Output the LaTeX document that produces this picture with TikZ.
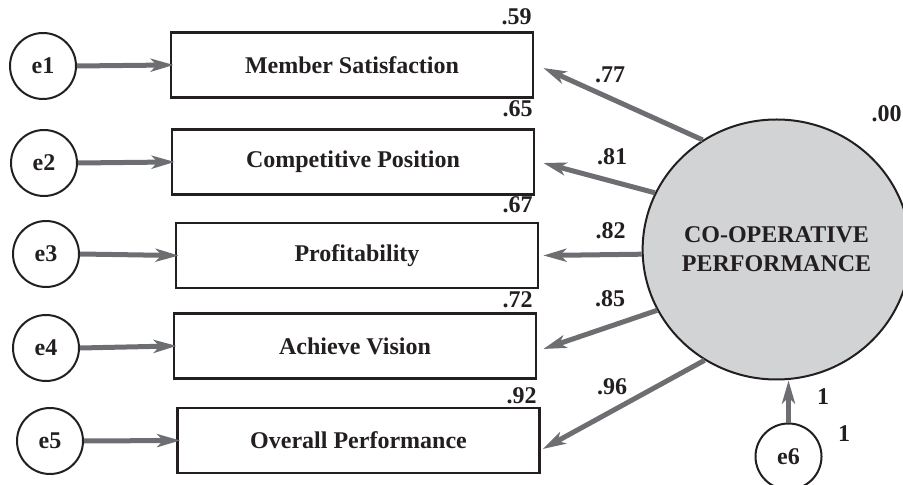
\documentclass[tikz,border=0pt]{standalone}
\usepackage{fontspec}
\setmainfont{Liberation Serif}
\usetikzlibrary{arrows.meta,shapes.geometric,scopes}
\definecolor{ink}{HTML}{231F20}
\definecolor{arrowgray}{HTML}{6D6E71}
\definecolor{latgray}{HTML}{D1D3D4}

\begin{document}
\begin{tikzpicture}[
    x=0.5pt,y=-0.5pt,
    every node/.style={text=ink,font=\bfseries\fontsize{12}{14.5}\selectfont},
    err/.style={circle,draw=ink,line width=1pt,minimum size=33pt,inner sep=0pt},
    obs/.style={rectangle,draw=ink,line width=1.3pt,minimum width=181pt,minimum height=32.5pt,inner sep=0pt},
    lat/.style={ellipse,draw=ink,fill=latgray,line width=1pt,minimum width=125pt,minimum height=130pt,inner sep=0pt,align=center},
    coef/.style={anchor=base east,inner sep=0pt},
    load/.style={anchor=base,inner sep=0pt},
    reg/.style={draw=arrowgray,line width=2.5pt,-{Stealth[length=11.5pt,width=6.5pt,inset=3pt]}},
]
\useasboundingbox (0,0) rectangle (903,485);

\foreach \n/\x/\y in {1/43/66,2/44/163,3/46/254,4/46/348,5/50/441}
    \node[err] (e\n) at (\x,\y) {e\n};
\node[err] (e6) at (788.5,456.5) {e6};

\node[obs] (sat) at (352,65) {Member Satisfaction};
\node[obs] (comp) at (353,162) {Competitive Position};
\node[obs] (prof) at (357,255.5) {Profitability};
\node[obs] (vis) at (355,346) {Achieve Vision};
\node[obs] (over) at (358.5,440.5) {Overall Performance};
\node[lat] (perf) at (776.5,249.5) {CO-OPERATIVE\\PERFORMANCE};

{[reg]
    \foreach \n/\b in {1/sat,2/comp,3/prof,4/vis,5/over}
        \draw[shorten >=-2pt] (e\n.east) -- (\b.west);
    \draw (perf.124) -- ([xshift=4.5pt,yshift=-1.5pt]sat.east);
    \draw (perf.155) -- ([xshift=4pt,yshift=-0.5pt]comp.east);
    \draw (perf.182) -- ([xshift=2pt]prof.east);
    \draw (perf.207) -- ([xshift=3pt,yshift=-1.5pt]vis.east);
    \draw (perf.237) -- ([xshift=1pt,yshift=-4.25pt]over.east);
    \draw (e6) -- (e6 |- perf.south);
}

\node[coef] (r1) at (532,25) {.59};
\node[coef] (r2) at (533,117) {.65};
\node[coef] (r3) at (533,213) {.67};
\node[coef] (r4) at (533,308) {.72};
\node[coef] (r5) at (537,403) {.92};
\node[coef] (r6) at (902,122) {.00};

\node[load] (l1) at (610,83) {.77};
\node[load] (l2) at (612,165) {.81};
\node[load] (l3) at (610.5,239) {.82};
\node[load] (l4) at (610,307) {.85};
\node[load] (l5) at (612,394) {.96};
\node[load] (w6) at (823,404) {1};
\node[load] (v6) at (844,441) {1};
\end{tikzpicture}
\end{document}
